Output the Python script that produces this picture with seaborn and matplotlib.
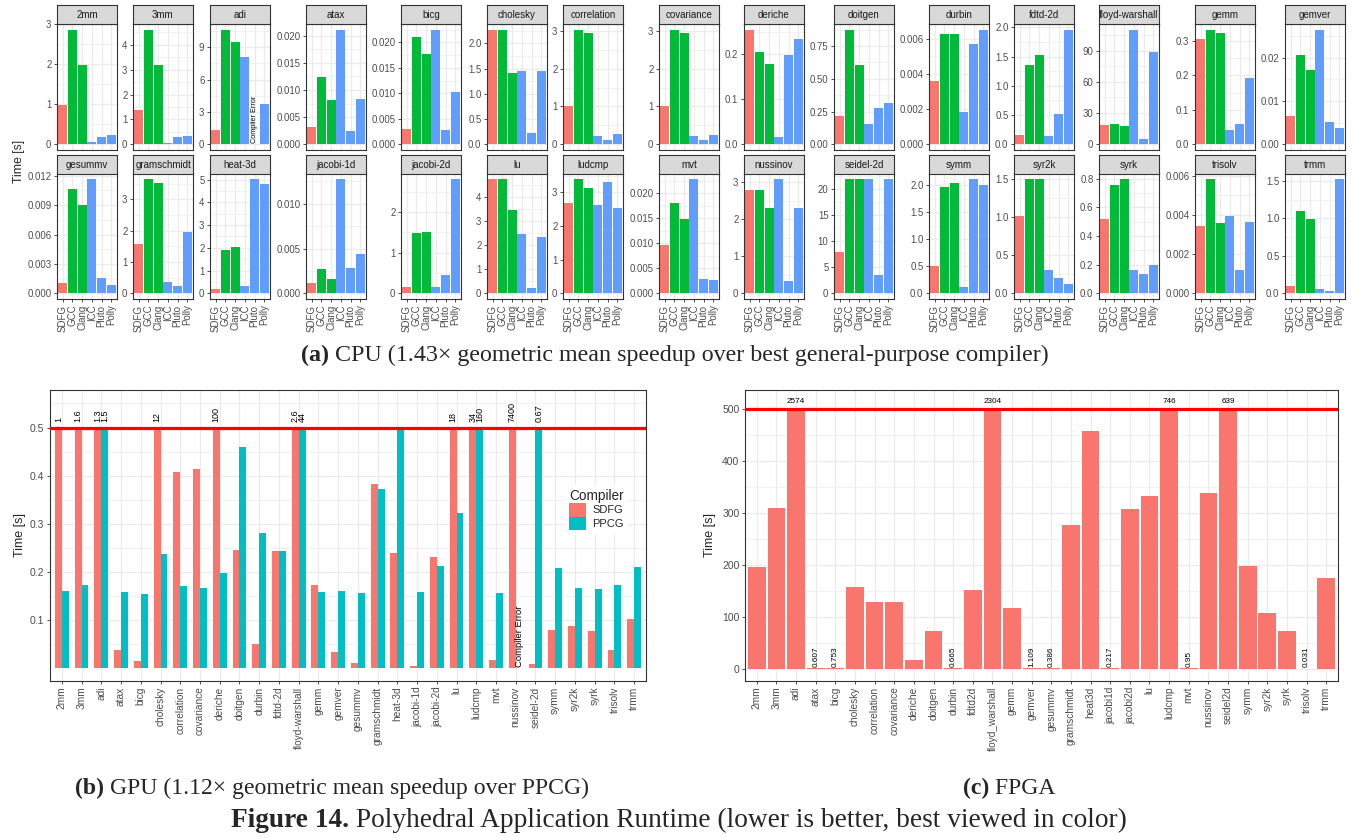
import numpy as np
import pandas as pd
import matplotlib
matplotlib.use("Agg")
import matplotlib.pyplot as plt
import seaborn as sns
from matplotlib.patches import Patch

nan = np.nan

# ---------------- data ----------------
kernels = ["2mm", "3mm", "adi", "atax", "bicg", "cholesky", "correlation", "covariance",
           "deriche", "doitgen", "durbin", "fdtd-2d", "floyd-warshall", "gemm", "gemver",
           "gesummv", "gramschmidt", "heat-3d", "jacobi-1d", "jacobi-2d", "lu", "ludcmp",
           "mvt", "nussinov", "seidel-2d", "symm", "syr2k", "syrk", "trisolv", "trmm"]
compilers = ["SDFG", "GCC", "Clang", "ICC", "Pluto", "Polly"]

sdfg_cpu = [0.98, 1.37, 1.3, 0.00315, 0.00296, 2.27, 1.01, 1.01, 0.255, 0.215, 0.00358, 0.167,
            18.1, 0.306, 0.00646, 0.001, 1.565, 0.207, 0.0012, 0.165, 4.77, 2.69, 0.00963, 2.8,
            7.9, 0.5, 1.013, 0.519, 0.00343, 0.103]
gcc_cpu = [2.86, 4.61, 10.62, 0.0124, 0.0211, 2.27, 3.03, 3.03, 0.206, 0.875, 0.00627, 1.356,
           19.0, 0.332, 0.0207, 0.01066, 3.655, 1.9, 0.00267, 1.48, 4.77, 3.41, 0.0181, 2.8,
           22.07, 1.975, 1.5, 0.758, 0.00585, 1.1]
clang_cpu = [1.98, 3.19, 9.44, 0.00815, 0.0178, 1.415, 2.95, 2.95, 0.179, 0.607, 0.00627, 1.53,
             17.1, 0.323, 0.0172, 0.00902, 3.526, 2.03, 0.00154, 1.5, 3.47, 3.14, 0.01488, 2.31,
             22.07, 2.05, 1.5, 0.8, 0.00358, 0.99]
icc_cpu = [0.045, 0.04, 8.1, 0.0211, 0.0225, 1.455, 0.21, 0.21, 0.017, 0.154, 0.00181, 0.15,
           110, 0.04, 0.0265, 0.0117, 0.375, 0.34, 0.0128, 0.165, 2.46, 2.63, 0.02296, 3.1,
           22.07, 0.125, 0.3, 0.16, 0.00394, 0.063]
pluto_cpu = [0.18, 0.28, nan, 0.0024, 0.00276, 0.22, 0.106, 0.1, 0.199, 0.276, 0.0057, 0.51,
             5.5, 0.0575, 0.00506, 0.00161, 0.246, 5.04, 0.00278, 0.46, 0.2, 3.32, 0.00296, 0.32,
             3.43, 2.125, 0.194, 0.138, 0.00117, 0.036]
polly_cpu = [0.23, 0.32, 3.73, 0.00833, 0.0102, 1.455, 0.266, 0.24, 0.235, 0.315, 0.0065, 1.96,
             88.7, 0.192, 0.00366, 0.00089, 1.95, 4.82, 0.00436, 2.82, 2.34, 2.54, 0.00276, 2.31,
             22.07, 2.01, 0.115, 0.195, 0.00363, 1.53]

cpu_ticks = [
    ["0", "1", "2", "3"], ["0", "1", "2", "3", "4"], ["0", "3", "6", "9"],
    ["0.000", "0.005", "0.010", "0.015", "0.020"], ["0.000", "0.005", "0.010", "0.015", "0.020"],
    ["0.0", "0.5", "1.0", "1.5", "2.0"], ["0", "1", "2", "3"], ["0", "1", "2", "3"],
    ["0.0", "0.1", "0.2"], ["0.00", "0.25", "0.50", "0.75"], ["0.000", "0.002", "0.004", "0.006"],
    ["0.0", "0.5", "1.0", "1.5", "2.0"], ["0", "30", "60", "90"], ["0.0", "0.1", "0.2", "0.3"],
    ["0.00", "0.01", "0.02"],
    ["0.000", "0.003", "0.006", "0.009", "0.012"], ["0", "1", "2", "3"], ["0", "1", "2", "3", "4", "5"],
    ["0.000", "0.005", "0.010"], ["0", "1", "2"], ["0", "1", "2", "3", "4"], ["0", "1", "2", "3"],
    ["0.000", "0.005", "0.010", "0.015", "0.020"], ["0", "1", "2", "3"], ["0", "5", "10", "15", "20"],
    ["0.0", "0.5", "1.0", "1.5", "2.0"], ["0.0", "0.5", "1.0", "1.5"], ["0.0", "0.2", "0.4", "0.6", "0.8"],
    ["0.000", "0.002", "0.004", "0.006"], ["0.0", "0.5", "1.0", "1.5"]]

gpu_compilers = ["SDFG", "PPCG"]
sdfg_gpu = [1, 1.6, 1.3, 0.037, 0.0146, 12, 0.408, 0.414, 100, 0.245, 0.05, 0.243, 2.6, 0.173,
            0.033, 0.0104, 0.383, 0.239, 0.005, 0.231, 18, 34, 0.017, 7400, 0.008, 0.079, 0.087,
            0.077, 0.037, 0.102]
ppcg_gpu = [0.16, 0.173, 1.5, 0.158, 0.154, 0.237, 0.17, 0.166, 0.198, 0.46, 0.281, 0.243, 44,
            0.158, 0.16, 0.156, 0.372, 0.495, 0.158, 0.212, 0.322, 160, 0.156, nan, 0.67, 0.208,
            0.166, 0.164, 0.173, 0.21]
gpu_ticks = ["0.1", "0.2", "0.3", "0.4", "0.5"]
gpu_cap = 0.5

fpga_kernels = ["2mm", "3mm", "adi", "atax", "bicg", "cholesky", "correlation", "covariance",
                "deriche", "doitgen", "durbin", "fdtd2d", "floyd_warshall", "gemm", "gemver",
                "gesummv", "gramschmidt", "heat3d", "jacobi1d", "jacobi2d", "lu", "ludcmp", "mvt",
                "nussinov", "seidel2d", "symm", "syr2k", "syrk", "trisolv", "trmm"]
fpga_time = [195.5, 309, 2574, 0.607, 0.753, 157, 128, 128, 16.7, 73, 0.665, 151, 2304, 116.7,
             1.109, 0.386, 276, 457, 0.217, 307, 332, 746, 0.95, 338, 639, 197, 107, 72.4,
             0.031, 174]
fpga_ticks = ["0", "100", "200", "300", "400", "500"]
fpga_cap = 500

# ---------------- styling ----------------
sns.set_theme(style="white")
plt.rcParams["font.family"] = ["Liberation Sans", "DejaVu Sans"]
SERIF = ["Liberation Serif", "DejaVu Serif"]
RED, GREEN, BLUE, TEAL = "#F8766D", "#00BA38", "#619CFF", "#00BFC4"
cpu_pal = {"SDFG": RED, "GCC": GREEN, "Clang": GREEN, "ICC": BLUE, "Pluto": BLUE, "Polly": BLUE}
gpu_pal = {"SDFG": RED, "PPCG": TEAL}
GRID, BORDER, TICKC = "#EBEBEB", "#333333", "#4D4D4D"

W, H = 1353, 838
fig = plt.figure(figsize=(W / 100, H / 100), dpi=100)


def px_axes(x, y, w, h):
    return fig.add_axes([x / W, 1 - (y + h) / H, w / W, h / H])


def style_axes(ax, tick_labels, ylim, ncat, show_x, yfs=6.8, xfs=6.8):
    vals = [float(t) for t in tick_labels]
    ax.set_ylim(ylim)
    ax.set_xlim(-0.6, ncat - 0.4)
    ax.set_yticks(vals)
    ax.set_yticklabels(tick_labels)
    step = vals[1] - vals[0]
    minors = [v + step / 2 for v in [vals[0] - step] + vals]
    minors = [m for m in minors if ylim[0] < m < ylim[1]]
    ax.set_yticks(minors, minor=True)
    ax.set_axisbelow(True)
    ax.grid(True, which="major", color=GRID, lw=0.9)
    ax.grid(True, which="minor", axis="y", color=GRID, lw=0.5)
    ax.tick_params(which="minor", length=0)
    ax.tick_params(which="major", length=2.5, width=0.6, color=BORDER,
                   labelcolor=TICKC, pad=1.5, left=True, bottom=True)
    ax.tick_params(axis="y", labelsize=yfs)
    ax.tick_params(axis="x", labelsize=xfs)
    for s in ax.spines.values():
        s.set_visible(True)
        s.set_color(BORDER)
        s.set_linewidth(0.8)
    ax.set_xlabel("")
    ax.set_ylabel("")
    if show_x:
        ax.tick_params(axis="x", labelrotation=90)
        for lab in ax.get_xticklabels():
            lab.set_va("top")
            lab.set_ha("center")
    else:
        ax.tick_params(axis="x", length=0, labelbottom=False)


# ---------------- (a) CPU facets ----------------
cpu_df = pd.DataFrame({
    "kernel": np.repeat(kernels, len(compilers)),
    "compiler": compilers * len(kernels),
    "t": np.column_stack([sdfg_cpu, gcc_cpu, clang_cpu, icc_cpu, pluto_cpu, polly_cpu]).ravel(),
})

col_left = [57, 133, 210, 306, 401, 487, 563, 659, 744, 834, 929, 1014, 1099, 1195, 1285]
strip_top = [5, 155]
panel_top = [24, 173]
PW, PH, SH = 60, 126, 19

for idx, k in enumerate(kernels):
    r, c = divmod(idx, 15)
    ax = px_axes(col_left[c], panel_top[r], PW, PH)
    sub = cpu_df[cpu_df.kernel == k]
    sns.barplot(data=sub, x="compiler", y="t", hue="compiler", order=compilers,
                hue_order=compilers, palette=cpu_pal, width=0.9, saturation=1,
                errorbar=None, legend=False, linewidth=0, ax=ax)
    mx = np.nanmax(sub.t.values)
    style_axes(ax, cpu_ticks[idx], (-0.05 * mx, 1.05 * mx), len(compilers), show_x=(r == 1),
               yfs=6.9, xfs=7.0)
    for j, v in enumerate(sub.t.values):
        if np.isnan(v):
            ax.annotate("Compiler Error", xy=(j, 0), xytext=(0, 1), textcoords="offset points",
                        rotation=90, ha="center", va="bottom", fontsize=5.2, color="black")
    sax = px_axes(col_left[c], strip_top[r], PW, SH)
    sax.set_facecolor("#D9D9D9")
    sax.set_xticks([])
    sax.set_yticks([])
    for s in sax.spines.values():
        s.set_visible(True)
        s.set_color(BORDER)
        s.set_linewidth(0.8)
    sax.text(0.5, 0.5, k, ha="center", va="center", fontsize=7.0, color="#1A1A1A",
             transform=sax.transAxes)

fig.text(19 / W, 1 - 161 / H, "Time [s]", rotation=90, ha="center", va="center", fontsize=8.8)

# ---------------- (b) GPU ----------------
gpu_df = pd.DataFrame({
    "kernel": np.repeat(kernels, 2),
    "compiler": gpu_compilers * len(kernels),
    "t": np.column_stack([sdfg_gpu, ppcg_gpu]).ravel(),
})
gpu_df["shown"] = gpu_df.t.clip(upper=gpu_cap)

gax = px_axes(50, 390, 596, 291)
GW = 0.7
sns.barplot(data=gpu_df, x="kernel", y="shown", hue="compiler", order=kernels,
            hue_order=gpu_compilers, palette=gpu_pal, width=GW, saturation=1, errorbar=None,
            legend=False, linewidth=0, ax=gax)
style_axes(gax, gpu_ticks, (-0.027, 0.578), len(kernels), show_x=True, yfs=7.5, xfs=7.3)
gax.axhline(gpu_cap, color="#FF0000", lw=2.3, zorder=4)
for h, comp in enumerate(gpu_compilers):
    off = GW / 2 * (h - 0.5)
    vals = gpu_df[gpu_df.compiler == comp].t.values
    for i, v in enumerate(vals):
        x = i + off
        if np.isnan(v):
            gax.annotate("Compiler Error", xy=(x, 0), xytext=(0, 1), textcoords="offset points",
                         rotation=90, ha="center", va="bottom", fontsize=6.8, color="black")
        elif v > gpu_cap:
            gax.annotate(f"{v:g}", xy=(x, gpu_cap), xytext=(0, 4), textcoords="offset points",
                         rotation=90, ha="center", va="bottom", fontsize=6.5, color="black")
fig.text(20 / W, 1 - 535 / H, "Time [s]", rotation=90, ha="center", va="center", fontsize=9)

handles = [Patch(facecolor=gpu_pal[c], edgecolor="none", label=c) for c in gpu_compilers]
leg = gax.legend(handles=handles, title="Compiler", loc="upper left",
                 bbox_to_anchor=(559 / W, 1 - 479 / H), bbox_transform=fig.transFigure,
                 fontsize=8.0, title_fontsize=9.8, handlelength=1.5, handleheight=1.5,
                 labelspacing=0.0, handletextpad=0.6, borderpad=0.4, frameon=True,
                 facecolor="white", edgecolor="none", framealpha=1, alignment="left",
                 fancybox=False)

# ---------------- (c) FPGA ----------------
fpga_df = pd.DataFrame({"kernel": fpga_kernels, "t": fpga_time})
fpga_df["shown"] = fpga_df.t.clip(upper=fpga_cap)
fax = px_axes(745, 390, 593, 291)
sns.barplot(data=fpga_df, x="kernel", y="shown", order=fpga_kernels, color=RED, width=0.9,
            saturation=1, errorbar=None, linewidth=0, ax=fax)
style_axes(fax, fpga_ticks, (-24, 536), len(fpga_kernels), show_x=True, yfs=7.5, xfs=7.3)
fax.axhline(fpga_cap, color="#FF0000", lw=2.3, zorder=4)
for i, v in enumerate(fpga_df.t.values):
    if v > fpga_cap:
        fax.annotate(f"{v:g}", xy=(i, fpga_cap), xytext=(0, 3), textcoords="offset points",
                     ha="center", va="bottom", fontsize=5.9, color="black")
    elif v < 5:
        fax.annotate(f"{v:g}", xy=(i, v), xytext=(0, 1), textcoords="offset points",
                     rotation=90, ha="center", va="bottom", fontsize=5.9, color="black")
fig.text(710 / W, 1 - 535 / H, "Time [s]", rotation=90, ha="center", va="center", fontsize=9)

# ---------------- captions ----------------
renderer = fig.canvas.get_renderer()


def caption(bold, rest, cx, cy, x_left=None, x_right=None, size=None):
    t1 = fig.text(0, 1 - cy / H, bold, fontweight="bold", family=SERIF, fontsize=10, va="center")
    t2 = fig.text(0, 1 - cy / H, rest, family=SERIF, fontsize=10, va="center")
    if size is None:
        w = t1.get_window_extent(renderer).width + t2.get_window_extent(renderer).width
        size = 10 * (x_right - x_left) / w
    t1.set_fontsize(size)
    t2.set_fontsize(size)
    w1 = t1.get_window_extent(renderer).width
    w2 = t2.get_window_extent(renderer).width
    x0 = cx - (w1 + w2) / 2
    t1.set_x(x0 / W)
    t2.set_x((x0 + w1) / W)
    return size


caption("(a)", " CPU (1.43× geometric mean speedup over best general-purpose compiler)", 675, 355,
        301, 1048)
sb = caption("(b)", " GPU (1.12× geometric mean speedup over PPCG)", 332, 788, 75, 590)
caption("(c)", " FPGA", 1009, 788, size=sb)
caption("Figure 14.", " Polyhedral Application Runtime (lower is better, best viewed in color)",
        679, 820, 232, 1126)

fig.savefig("out.png", dpi=100)
